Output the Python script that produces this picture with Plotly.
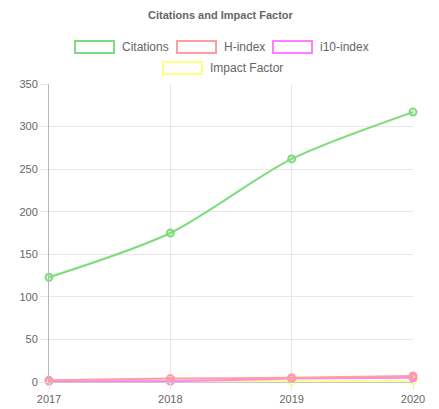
import plotly.graph_objects as go

years = [2017, 2018, 2019, 2020]
citations = [123, 175, 262, 317]
h_index = [2, 4, 5, 7]
i10_index = [1, 1, 4, 5]
impact_factor = [0.5, 0.8, 1.0, 1.5]

series = [
    ("Citations", citations, "#7ddc7d", "rgba(125,220,125,0.25)"),
    ("H-index", h_index, "#ff9e9e", "rgba(255,158,158,0.25)"),
    ("i10-index", i10_index, "#ff80ff", "rgba(255,128,255,0.25)"),
    ("Impact Factor", impact_factor, "#ffff80", "rgba(255,255,128,0.25)"),
]

OFF = 8  # page body margin
W, H = 439 - OFF, 409 - OFF
L, R, T, B = 49 - OFF, 413 - OFF, 84 - OFF, 382 - OFF

fig = go.Figure()
for name, vals, col, fill in reversed(series):
    fig.add_trace(go.Scatter(
        x=years, y=vals, name=name, mode="lines+markers",
        line=dict(color=col, width=2, shape="spline", smoothing=0.8),
        marker=dict(size=7, color=fill, line=dict(color=col, width=2)),
        cliponaxis=False, showlegend=False,
    ))

def px(x):
    return (x - OFF - L) / (R - L)

def py(y):
    return (B - (y - OFF)) / (B - T)

shapes = []
annotations = []
legend_items = [
    ("Citations", "#7ddc7d", 75, 41, 120),
    ("H-index", "#ff9e9e", 177, 41, 222),
    ("i10-index", "#ff80ff", 273, 41, 318),
    ("Impact Factor", "#ffff80", 163, 62, 208),
]
for name, col, bx, by, tx in legend_items:
    shapes.append(dict(type="rect", xref="paper", yref="paper",
                       x0=px(bx), x1=px(bx + 39), y0=py(by), y1=py(by + 12),
                       line=dict(color=col, width=2),
                       fillcolor="rgba(255,255,255,0)", layer="above"))
    annotations.append(dict(text=name, xref="paper", yref="paper",
                            x=px(tx), y=py(by + 6), xanchor="left", yanchor="middle",
                            showarrow=False, font=dict(size=12, color="#666666")))

annotations.append(dict(text="<b>Citations and Impact Factor</b>", xref="paper", yref="paper",
                        x=px(221), y=py(15), xanchor="center", yanchor="middle",
                        showarrow=False, font=dict(size=11, color="#666666")))

fig.update_layout(
    width=W, height=H,
    margin=dict(l=L, r=W - R, t=T, b=H - B),
    paper_bgcolor="white", plot_bgcolor="white",
    font=dict(family="Liberation Sans, Arial, sans-serif", size=11, color="#666666"),
    shapes=shapes, annotations=annotations,
    xaxis=dict(range=[2017, 2020], tickmode="array", tickvals=years,
               ticktext=[str(y) for y in years], automargin=False,
               showgrid=True, gridcolor="#e8e8e8", gridwidth=1,
               zeroline=False, showline=True, linecolor="#c8c8c8", linewidth=1,
               ticks="outside", ticklen=7, tickcolor="#e8e8e8",
               tickfont=dict(size=11, color="#666666")),
    yaxis=dict(range=[0, 350], dtick=50, tick0=0, automargin=False,
               showgrid=True, gridcolor="#e8e8e8", gridwidth=1,
               zeroline=False, showline=True, linecolor="#b8b8b8", linewidth=1,
               ticks="outside", ticklen=8, tickcolor="#e8e8e8",
               tickfont=dict(size=11, color="#666666")),
)

fig.write_html("out.html")
